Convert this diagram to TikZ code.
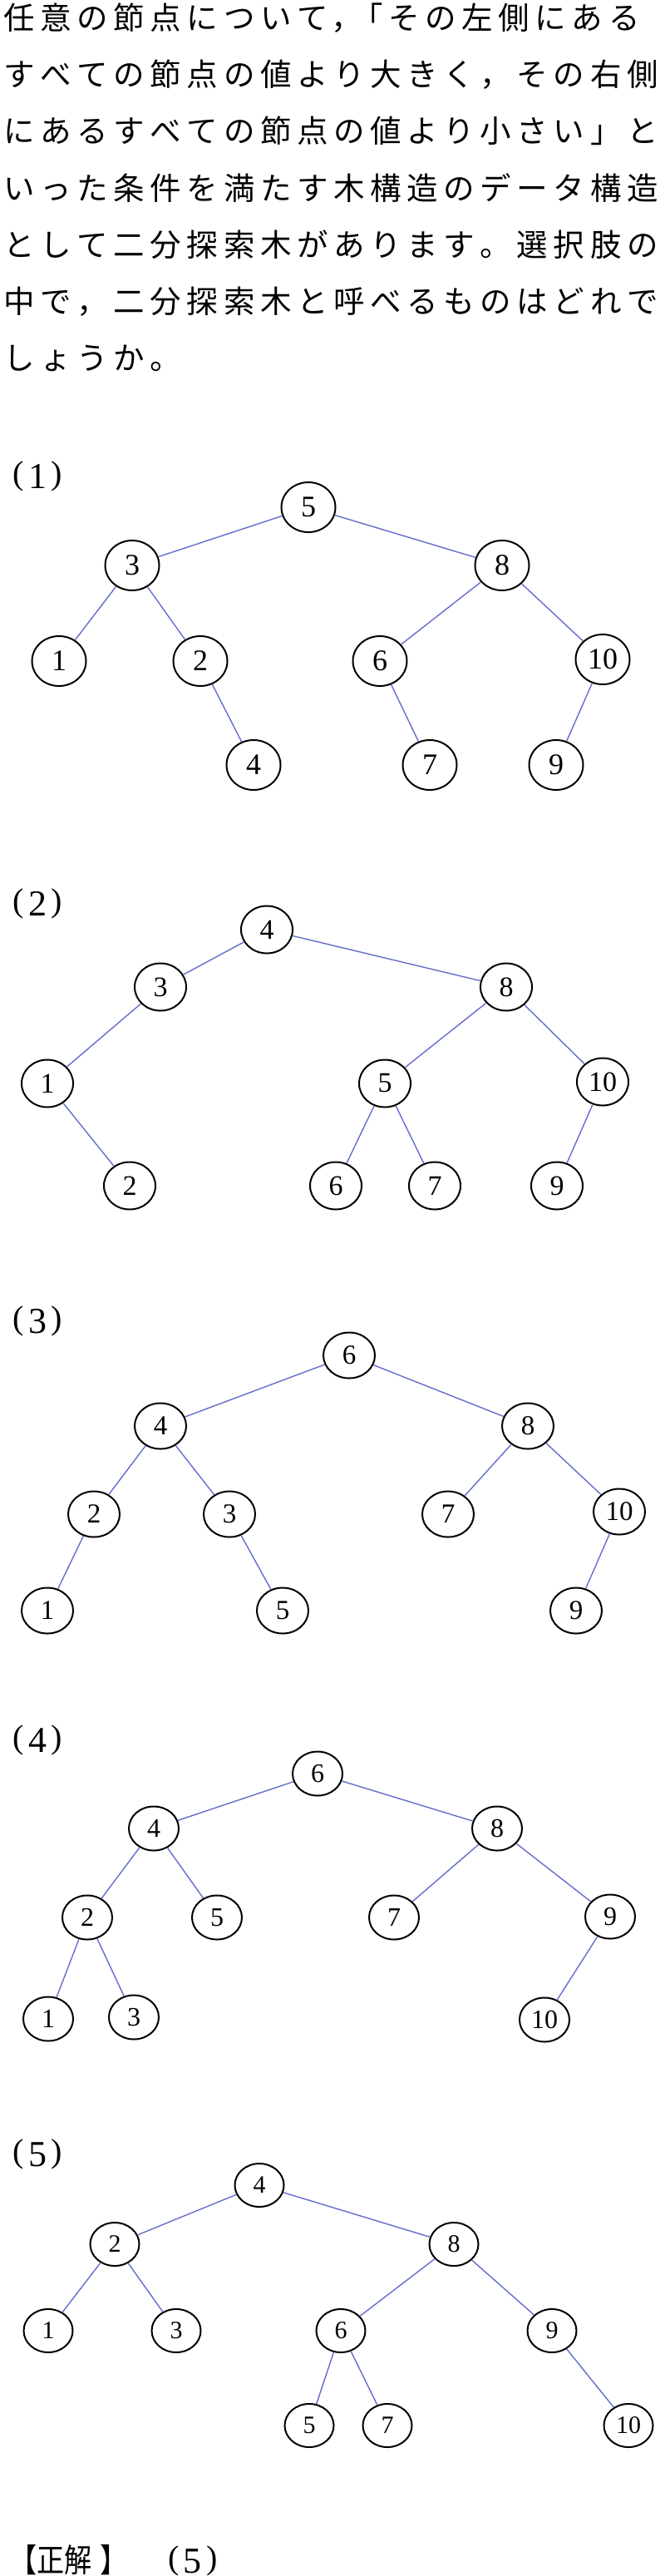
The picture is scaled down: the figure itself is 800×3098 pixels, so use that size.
\documentclass[tikz,border=0pt]{standalone}
\usepackage{fontspec}
\usetikzlibrary{shapes.geometric}
\newfontfamily\cjk{Noto Sans CJK JP}
\newfontfamily\cjkc[FakeStretch=0.85]{Noto Sans CJK JP}
\newfontfamily\lser{Liberation Serif}
\definecolor{edgeblue}{RGB}{100,110,205}
\newlength\cw \setlength\cw{44.1pt}
\def\cjkloop#1{\ifx\relax#1\else\makebox[\cw]{#1}\expandafter\cjkloop\fi}
\newcommand\jline[1]{\cjkloop#1\relax}
\newcommand\plab[1]{\makebox[23pt]{(}\makebox[23pt]{\raisebox{-5pt}{\fontsize{44}{44}\selectfont #1}}\makebox[23pt]{)}}
\def\nw{65pt}\def\nh{60pt}\def\nf{36}
\tikzset{
 bodytext/.style={anchor=base west, inner sep=0pt, font=\cjk\fontsize{37.5}{40}\selectfont},
 lab/.style={anchor=base west, inner sep=0pt, font=\lser\fontsize{40}{44}\selectfont},
 anstext/.style={anchor=base west, inner sep=0pt, font=\cjkc\fontsize{39}{40}\selectfont},
 tnode/.style={ellipse, draw=black, line width=2pt, inner sep=0pt, minimum width=\nw, minimum height=\nh, font=\lser\fontsize{\nf}{\nf}\selectfont},
 tedge/.style={draw=edgeblue, line width=1.4pt},
}
\begin{document}
\begin{tikzpicture}[x=1pt,y=-1pt]
\fill[white] (0,0) rectangle (800,3098);
\useasboundingbox (0,0) rectangle (800,3098);

% question text
\node[bodytext] (l1) at (1,35.2) {\jline{任意の節点について}\makebox[22pt][l]{，}\jline{「その左側にある}};
\node[bodytext] (l2) at (1,103.2) {\jline{すべての節点の値より大きく，その右側}};
\node[bodytext] (l3) at (1,171.2) {\jline{にあるすべての節点の値より小さい」と}};
\node[bodytext] (l4) at (1,240.2) {\jline{いった条件を満たす木構造のデータ構造}};
\node[bodytext] (l5) at (1,308.2) {\jline{として二分探索木があります。選択肢の}};
\node[bodytext] (l6) at (1,376.2) {\jline{中で，二分探索木と呼べるものはどれで}};
\node[bodytext] (l7) at (1,444.2) {\jline{しょうか。}};

% (1)
\node[lab] (p1) at (10.5,582) {\plab{1}};
\def\nw{65pt}\def\nh{60pt}\def\nf{36}
\node[tnode] (a5) at (371,610) {5};
\node[tnode] (a3) at (159,680) {3};
\node[tnode] (a8) at (604,680) {8};
\node[tnode] (a1) at (71,795) {1};
\node[tnode] (a2) at (241,795) {2};
\node[tnode] (a6) at (457,795) {6};
\node[tnode] (a10) at (725,793) {10};
\node[tnode] (a4) at (305,920) {4};
\node[tnode] (a7) at (517,920) {7};
\node[tnode] (a9) at (669,920) {9};
\draw[tedge] (a5) -- (a3);
\draw[tedge] (a5) -- (a8);
\draw[tedge] (a3) -- (a1);
\draw[tedge] (a3) -- (a2);
\draw[tedge] (a2) -- (a4);
\draw[tedge] (a8) -- (a6);
\draw[tedge] (a8) -- (a10);
\draw[tedge] (a6) -- (a7);
\draw[tedge] (a10) -- (a9);

% (2)
\node[lab] (p2) at (10.5,1096) {\plab{2}};
\def\nw{62pt}\def\nh{57pt}\def\nf{34}
\node[tnode] (b4) at (321,1118) {4};
\node[tnode] (b3) at (193,1187) {3};
\node[tnode] (b8) at (609,1187) {8};
\node[tnode] (b1) at (57,1303) {1};
\node[tnode] (b5) at (463,1303) {5};
\node[tnode] (b10) at (725,1301) {10};
\node[tnode] (b2) at (156,1426) {2};
\node[tnode] (b6) at (404,1426) {6};
\node[tnode] (b7) at (523,1426) {7};
\node[tnode] (b9) at (670,1426) {9};
\draw[tedge] (b4) -- (b3);
\draw[tedge] (b4) -- (b8);
\draw[tedge] (b3) -- (b1);
\draw[tedge] (b1) -- (b2);
\draw[tedge] (b8) -- (b5);
\draw[tedge] (b8) -- (b10);
\draw[tedge] (b5) -- (b6);
\draw[tedge] (b5) -- (b7);
\draw[tedge] (b10) -- (b9);

% (3)
\node[lab] (p3) at (10.5,1598) {\plab{3}};
\def\nw{62pt}\def\nh{55pt}\def\nf{33}
\node[tnode] (c6) at (420,1630) {6};
\node[tnode] (c4) at (193,1715) {4};
\node[tnode] (c8) at (635,1715) {8};
\node[tnode] (c2) at (113,1821) {2};
\node[tnode] (c3) at (276,1821) {3};
\node[tnode] (c7) at (539,1821) {7};
\node[tnode] (c10) at (745,1818) {10};
\node[tnode] (c1) at (57,1937) {1};
\node[tnode] (c5) at (340,1937) {5};
\node[tnode] (c9) at (693,1937) {9};
\draw[tedge] (c6) -- (c4);
\draw[tedge] (c6) -- (c8);
\draw[tedge] (c4) -- (c2);
\draw[tedge] (c4) -- (c3);
\draw[tedge] (c2) -- (c1);
\draw[tedge] (c3) -- (c5);
\draw[tedge] (c8) -- (c7);
\draw[tedge] (c8) -- (c10);
\draw[tedge] (c10) -- (c9);

% (4)
\node[lab] (p4) at (10.5,2102) {\plab{4}};
\def\nw{60pt}\def\nh{53pt}\def\nf{32}
\node[tnode] (d6) at (382,2133) {6};
\node[tnode] (d4) at (185,2199) {4};
\node[tnode] (d8) at (598,2199) {8};
\node[tnode] (d2) at (105,2306) {2};
\node[tnode] (d5) at (261,2306) {5};
\node[tnode] (d7) at (474,2306) {7};
\node[tnode] (d9) at (734,2305) {9};
\node[tnode] (d1) at (58,2428) {1};
\node[tnode] (d3) at (161,2426) {3};
\node[tnode] (d10) at (655,2429) {10};
\draw[tedge] (d6) -- (d4);
\draw[tedge] (d6) -- (d8);
\draw[tedge] (d4) -- (d2);
\draw[tedge] (d4) -- (d5);
\draw[tedge] (d2) -- (d1);
\draw[tedge] (d2) -- (d3);
\draw[tedge] (d8) -- (d7);
\draw[tedge] (d8) -- (d9);
\draw[tedge] (d9) -- (d10);

% (5)
\node[lab] (p5) at (10.5,2600) {\plab{5}};
\def\nw{59pt}\def\nh{52pt}\def\nf{30}
\node[tnode] (e4) at (312,2628) {4};
\node[tnode] (e2) at (138,2699) {2};
\node[tnode] (e8) at (546,2699) {8};
\node[tnode] (e1) at (58,2803) {1};
\node[tnode] (e3) at (212,2803) {3};
\node[tnode] (e6) at (410,2803) {6};
\node[tnode] (e9) at (664,2803) {9};
\node[tnode] (e5) at (372,2917) {5};
\node[tnode] (e7) at (466,2917) {7};
\node[tnode] (e10) at (756,2917) {10};
\draw[tedge] (e4) -- (e2);
\draw[tedge] (e4) -- (e8);
\draw[tedge] (e2) -- (e1);
\draw[tedge] (e2) -- (e3);
\draw[tedge] (e8) -- (e6);
\draw[tedge] (e8) -- (e9);
\draw[tedge] (e6) -- (e5);
\draw[tedge] (e6) -- (e7);
\draw[tedge] (e9) -- (e10);

% answer
\node[anstext] (ans) at (11.5,3093) {\makebox[33pt]{【}\makebox[33pt]{正}\makebox[33pt]{解}\hspace{10pt}\makebox[33pt]{】}};
\node[lab] (ansn) at (197,3089) {\plab{5}};
\end{tikzpicture}
\end{document}
